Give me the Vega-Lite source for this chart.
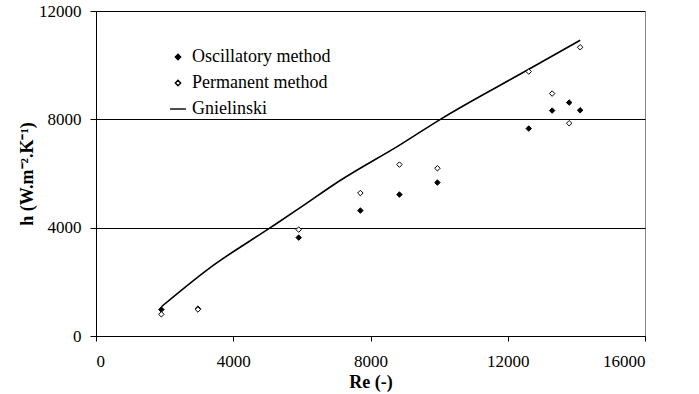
{
  "$schema": "https://vega.github.io/schema/vega-lite/v6.json",
  "width": 549,
  "height": 325,
  "autosize": "none",
  "padding": {"left": 96, "top": 11, "right": 54, "bottom": 58},
  "background": "white",
  "config": {
    "font": "Liberation Serif",
    "view": {"stroke": "#888888", "strokeWidth": 1},
    "axis": {"labelFont": "Liberation Serif", "labelFontSize": 17, "labelColor": "black"}
  },
  "datasets": {
    "points": [
      {"Re": 1904, "h": 975, "series": "Oscillatory method"},
      {"Re": 2970, "h": 1010, "series": "Oscillatory method"},
      {"Re": 5907, "h": 3633, "series": "Oscillatory method"},
      {"Re": 7705, "h": 4630, "series": "Oscillatory method"},
      {"Re": 8843, "h": 5222, "series": "Oscillatory method"},
      {"Re": 9950, "h": 5665, "series": "Oscillatory method"},
      {"Re": 12612, "h": 7659, "series": "Oscillatory method"},
      {"Re": 13294, "h": 8323, "series": "Oscillatory method"},
      {"Re": 13790, "h": 8619, "series": "Oscillatory method"},
      {"Re": 14111, "h": 8335, "series": "Oscillatory method"},
      {"Re": 1904, "h": 800, "series": "Permanent method"},
      {"Re": 2970, "h": 980, "series": "Permanent method"},
      {"Re": 5907, "h": 3929, "series": "Permanent method"},
      {"Re": 7705, "h": 5280, "series": "Permanent method"},
      {"Re": 8843, "h": 6330, "series": "Permanent method"},
      {"Re": 9950, "h": 6193, "series": "Permanent method"},
      {"Re": 12612, "h": 9764, "series": "Permanent method"},
      {"Re": 13294, "h": 8951, "series": "Permanent method"},
      {"Re": 13790, "h": 7855, "series": "Permanent method"},
      {"Re": 14111, "h": 10661, "series": "Permanent method"}
    ],
    "gnielinski": [
      {"Re": 1904, "h": 1080},
      {"Re": 3300, "h": 2500},
      {"Re": 5082, "h": 4000},
      {"Re": 5907, "h": 4700},
      {"Re": 7125, "h": 5750},
      {"Re": 8872, "h": 7068},
      {"Re": 10036, "h": 8000},
      {"Re": 12600, "h": 9838},
      {"Re": 14111, "h": 10920}
    ]
  },
  "encoding": {
    "x": {"field": "Re", "type": "quantitative", "scale": {"domain": [0, 16000], "nice": false},
      "axis": {"title": "Re (-)", "values": [0, 4000, 8000, 12000, 16000], "format": ".0f", "grid": false, "tickSize": 5, "labelPadding": 12, "titlePadding": 4, "domainWidth": 1,
        "labelFont": "Liberation Serif", "titleFont": "Liberation Serif", "labelFontSize": 17, "titleFontSize": 18, "titleFontWeight": "bold", "labelColor": "black", "titleColor": "black", "domainColor": "black", "tickColor": "black",
        "encode": {"labels": {"update": {"font": {"value": "Liberation Serif"}, "fontSize": {"value": 17}, "fill": {"value": "black"}}}}}},
    "y": {"field": "h", "type": "quantitative", "scale": {"domain": [0, 12000], "nice": false},
      "axis": {"title": "h (W.m⁻².K⁻¹)", "values": [0, 4000, 8000, 12000], "format": ".0f", "grid": true, "gridColor": "black",
        "gridOpacity": 1, "tickSize": 6, "labelPadding": 9, "titlePadding": 2,
        "labelFont": "Liberation Serif", "titleFont": "Liberation Serif", "labelFontSize": 17, "titleFontSize": 18, "titleFontWeight": "bold", "labelColor": "black", "titleColor": "black", "domainColor": "black", "tickColor": "black",
        "encode": {"labels": {"update": {"font": {"value": "Liberation Serif"}, "fontSize": {"value": 17}, "fill": {"value": "black"}}}}}}
  },
  "layer": [
    {
      "data": {"name": "gnielinski"},
      "mark": {"type": "line", "color": "black", "strokeWidth": 1.6, "interpolate": "monotone"}
    },
    {
      "data": {"name": "points"},
      "mark": {"type": "point", "size": 30, "strokeWidth": 1, "opacity": 1, "filled": false},
      "encoding": {
        "color": {"field": "series", "type": "nominal",
          "scale": {"domain": ["Oscillatory method", "Permanent method", "Gnielinski"], "range": ["black", "black", "black"]},
          "legend": {"title": null, "orient": "none", "legendX": 73, "legendY": 37, "labelFontSize": 18, "labelFont": "Liberation Serif", "labelColor": "black", "rowPadding": 8, "symbolStrokeWidth": 1.4, "labelOffset": 5, "padding": 0, "symbolSize": 28}},
        "fill": {"field": "series", "type": "nominal",
          "scale": {"domain": ["Oscillatory method", "Permanent method", "Gnielinski"], "range": ["black", "white", "black"]}},
        "shape": {"field": "series", "type": "nominal",
          "scale": {"domain": ["Oscillatory method", "Permanent method", "Gnielinski"], "range": ["diamond", "diamond", "M-3,0H3"]}}
      }
    }
  ]
}
